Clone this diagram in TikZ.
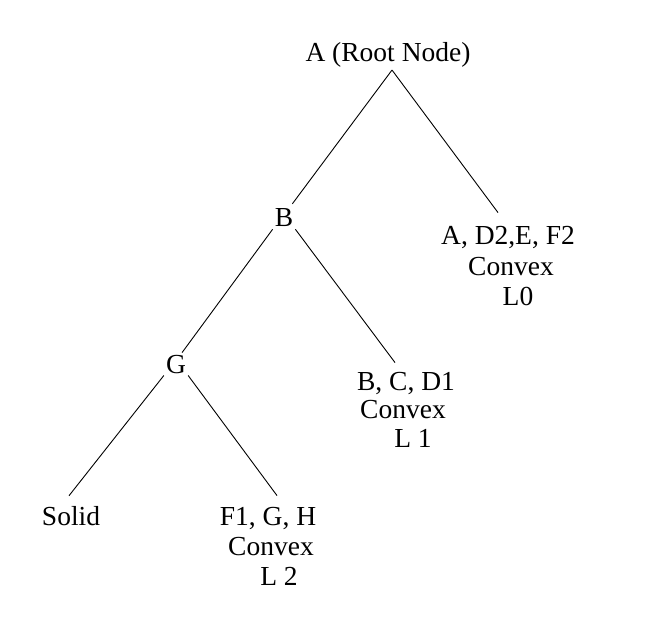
\documentclass[tikz,border=0pt]{standalone}
\usepackage{fontspec}
\setmainfont{Liberation Serif}
\usetikzlibrary{calc}
\begin{document}
\begin{tikzpicture}[x=1pt,y=-1pt,
  lbl/.style={anchor=base,inner sep=2pt,font=\fontsize{27.5}{30}\selectfont},
  edge/.style={draw=black,line width=0.9pt}]
\useasboundingbox (0,0) rectangle (650,620);
\fill[white] (0,0) rectangle (650,620);
\node[lbl] (A) at (388,62) {A (Root Node)};
\node[lbl] (B) at (284,227) {B};
\node[lbl] (R1a) at (508,245) {A, D2,E, F2};
\node[lbl] (R1b) at (511,276) {Convex};
\node[lbl] (R1c) at (518,305) {L0};
\node[lbl] (G) at (176,373) {G};
\node[lbl] (R2a) at (406,390) {B, C, D1};
\node[lbl] (R2b) at (403,418) {Convex};
\node[lbl] (R2c) at (413,447) {L 1};
\node[lbl] (S) at (71,525) {Solid};
\node[lbl] (R3a) at (268,525) {F1, G, H};
\node[lbl] (R3b) at (271,555) {Convex};
\node[lbl] (R3c) at (279,585) {L 2};
\coordinate (a0) at ($(A.south)+(4,0)$);
\draw[edge] (a0) -- ($(B.north east)+(-3,-3)$);
\draw[edge] (a0) -- ($(R1a.north)+(-10,-12)$);
\draw[edge] (B.south west) -- ($(G.north)!0.5!(G.north east)$);
\draw[edge] (B.south east) -- ($(R2a.north)+(-11,-7)$);
\draw[edge] (G.south west) -- ($(S.north)+(-2,-8)$);
\draw[edge] (G.south east) -- ($(R3a.north)+(9,-9)$);
\end{tikzpicture}
\end{document}
